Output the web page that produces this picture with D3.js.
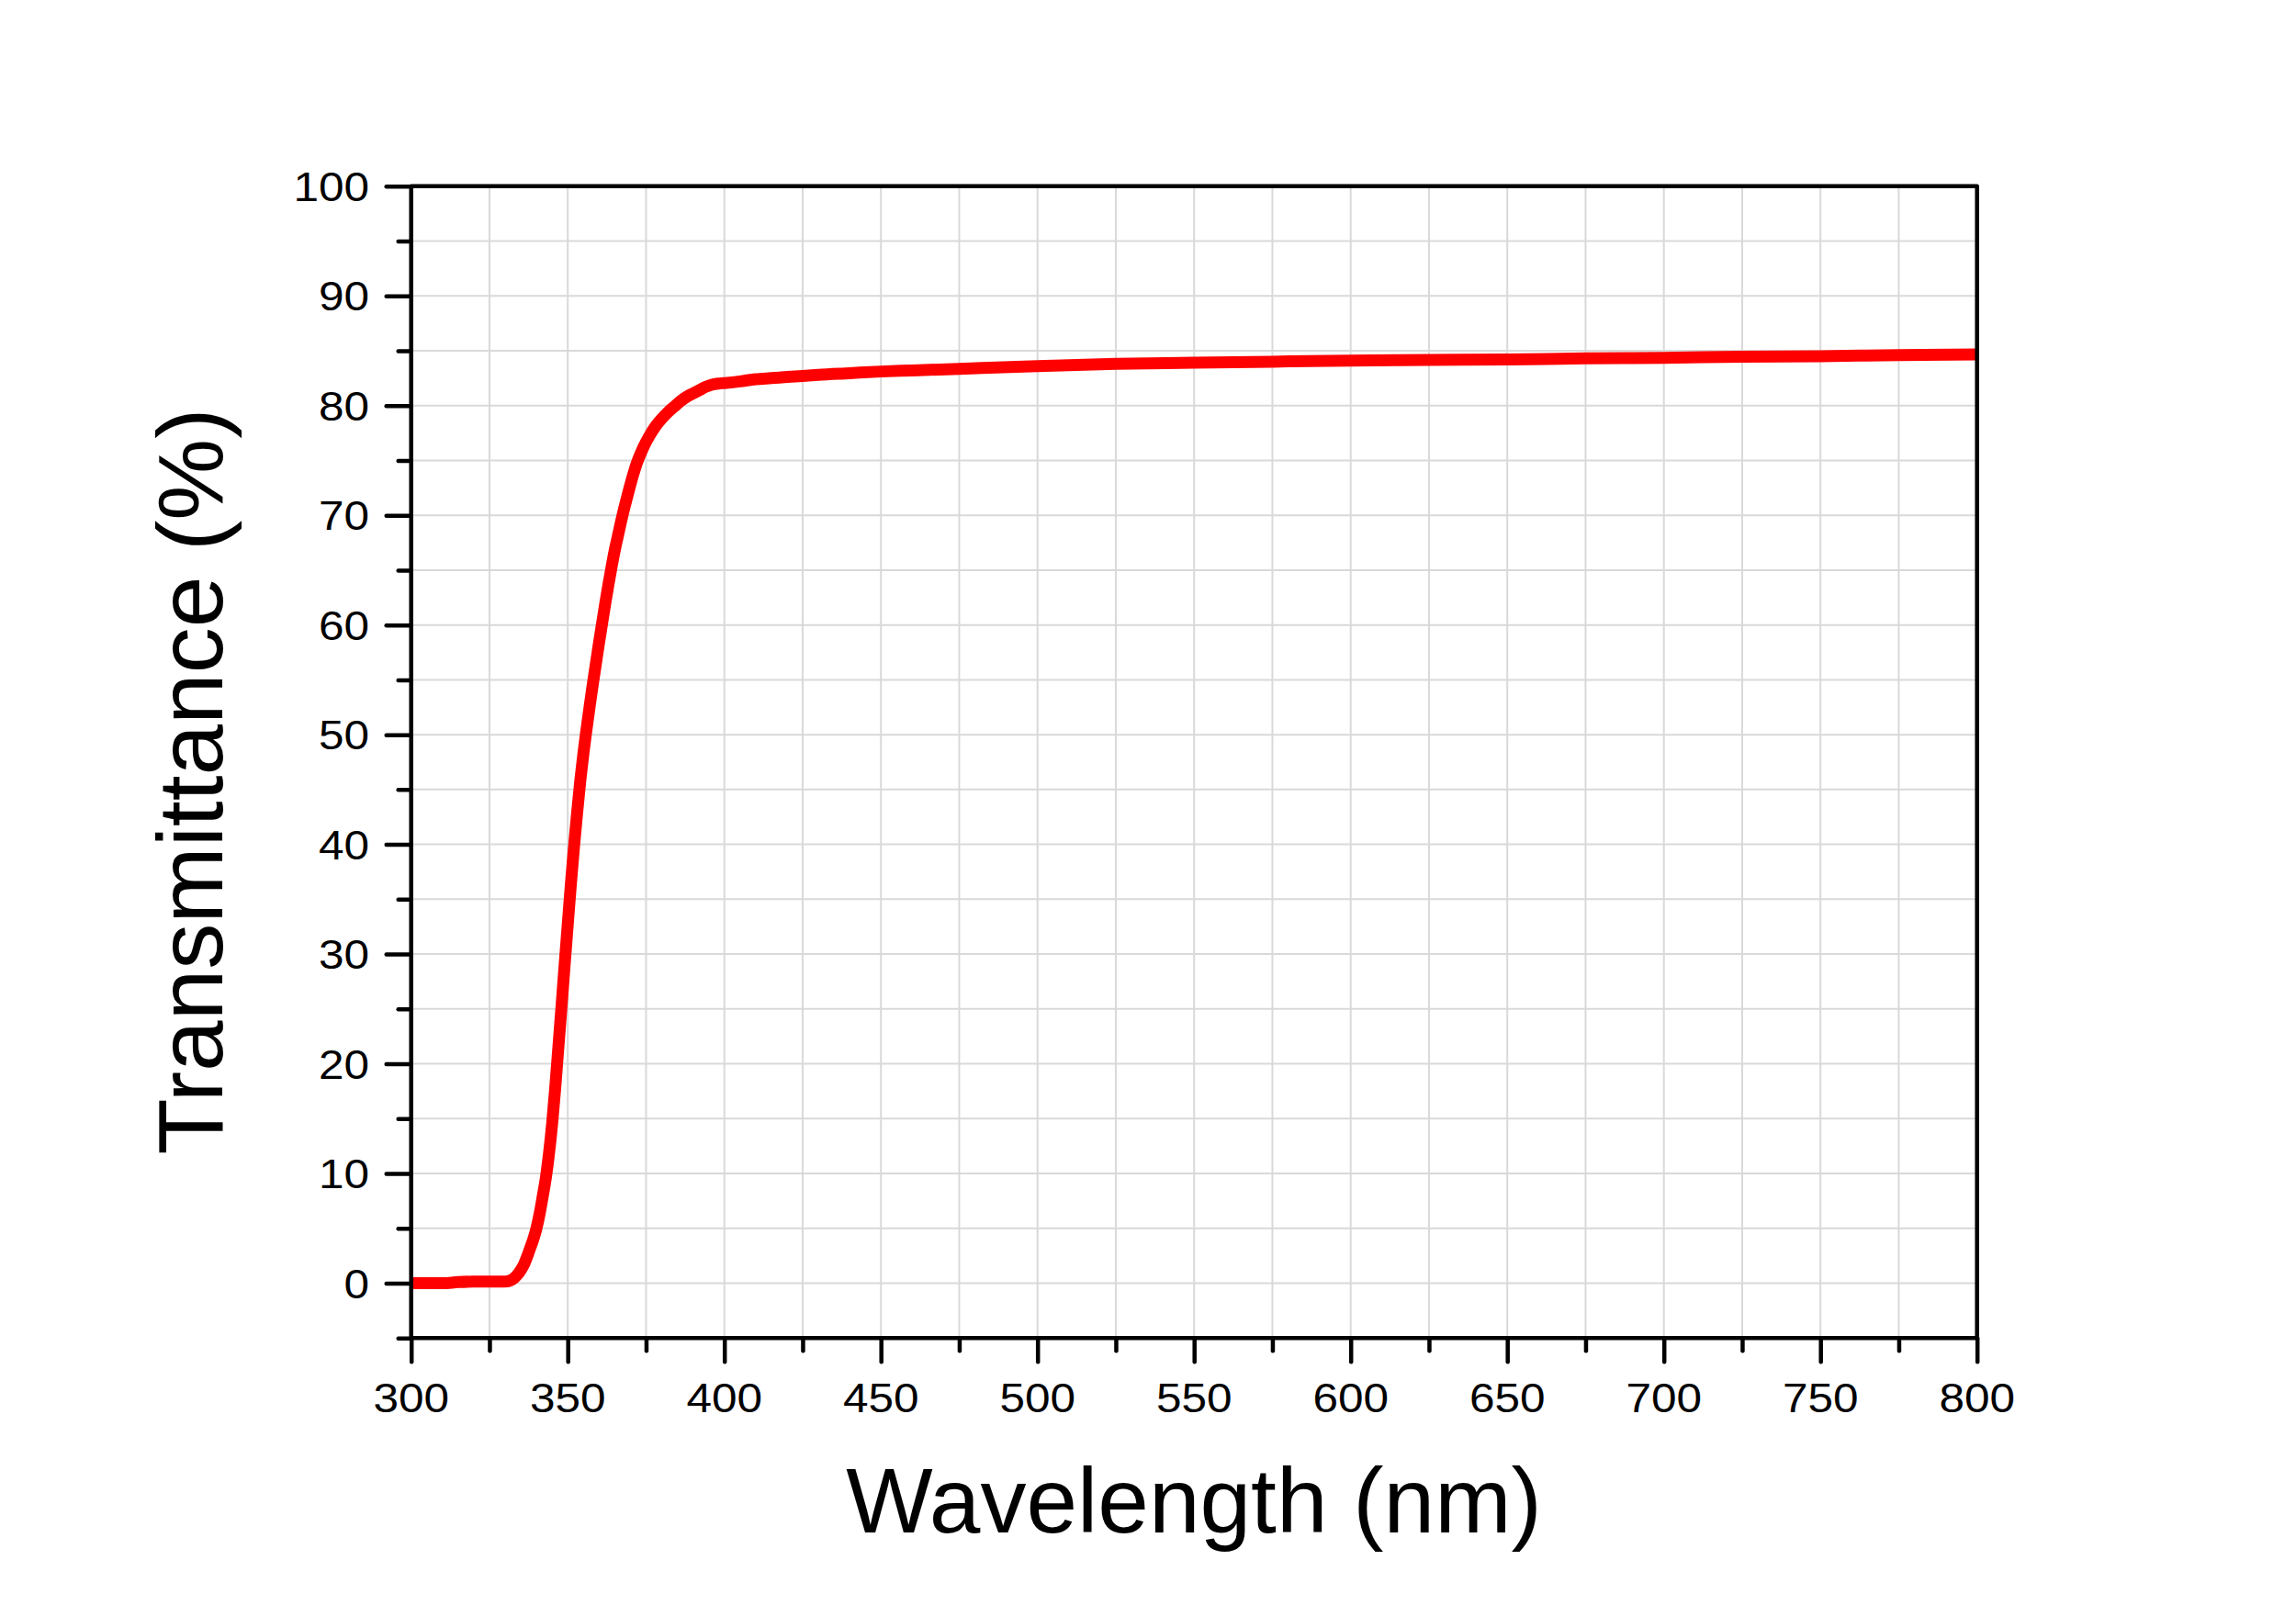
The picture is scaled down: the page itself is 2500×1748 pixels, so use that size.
<!DOCTYPE html>
<html>
<head>
<meta charset="utf-8">
<script src="https://cdn.jsdelivr.net/npm/d3@7"></script>
<style>
  html, body { margin: 0; padding: 0; background: #fff; }
  svg { display: block; }
  text { font-family: "Liberation Sans", Arial, sans-serif; fill: #000; }
</style>
</head>
<body>
<svg id="chart" width="2500" height="1748"></svg>
<script>
// ---- data ----
const wavelength = [300, 305, 310, 315, 320, 325, 330, 332, 333, 334, 335, 336, 337, 338, 339,
  340, 341, 342, 343, 344, 345, 346, 347, 348, 349, 350, 351, 352, 353, 354, 355, 356, 357, 358, 359,
  360, 361, 362, 363, 364, 365, 366, 367, 368, 369, 370, 372, 374, 376, 378, 380, 382, 384, 386, 388,
  390, 392, 394, 396, 398, 400, 405, 410, 415, 420, 425, 430, 440, 450, 460, 475, 500, 525, 550, 575,
  600, 625, 650, 675, 700, 725, 750, 775, 800];
const transmittance = [0.0, 0.0, 0.0, 0.1, 0.15, 0.15, 0.15, 0.3, 0.5, 0.8, 1.2, 1.7, 2.4, 3.2, 4.0,
  5.0, 6.3, 7.9, 9.6, 11.8, 14.5, 17.8, 21.5, 25.2, 29, 32.7, 36.4, 39.8, 42.9, 45.8, 48.3, 50.5, 52.6, 54.6, 56.5,
  58.4, 60.2, 62, 63.7, 65.3, 66.8, 68.1, 69.4, 70.6, 71.7, 72.8, 74.7, 76.1, 77.2, 78.1, 78.8, 79.4, 79.9, 80.4, 80.8,
  81.1, 81.4, 81.7, 81.9, 82.0, 82.05, 82.2, 82.4, 82.5, 82.6, 82.7, 82.8, 82.95, 83.1, 83.2, 83.35, 83.6, 83.8, 83.9, 84.0,
  84.1, 84.15, 84.2, 84.3, 84.35, 84.45, 84.5, 84.6, 84.65];
const xTickValues = [300, 350, 400, 450, 500, 550, 600, 650, 700, 750, 800];
const xMinorValues = [325, 375, 425, 475, 525, 575, 625, 675, 725, 775];
const yTickValues = [0, 10, 20, 30, 40, 50, 60, 70, 80, 90, 100];
const yMinorValues = [-5, 5, 15, 25, 35, 45, 55, 65, 75, 85, 95];
const xTitle = "Wavelength (nm)";
const yTitle = "Transmittance (%)";

// ---- layout ----
const L = 447.7, R = 2152.7, T = 202.7, B = 1457.3;
const svg = d3.select("#chart");
const x = d3.scaleLinear().domain([300, 800]).range([L, R]);
const y = d3.scaleLinear().domain([-5, 100]).range([B, T]);

// gridlines
const grid = svg.append("g").attr("stroke", "#d9d9d9").attr("stroke-width", 2);
grid.selectAll("line.gx").data(xTickValues.concat(xMinorValues).filter(v => v > 300 && v < 800))
  .enter().append("line").attr("x1", d => x(d)).attr("x2", d => x(d)).attr("y1", T).attr("y2", B);
grid.selectAll("line.gy").data(yTickValues.concat(yMinorValues).filter(v => v > -5 && v < 100))
  .enter().append("line").attr("y1", d => y(d)).attr("y2", d => y(d)).attr("x1", L).attr("x2", R);

// data line
const line = d3.line().x((d, i) => x(wavelength[i])).y(d => y(d)).curve(d3.curveMonotoneX);
svg.append("path").datum(transmittance)
  .attr("d", line).attr("fill", "none").attr("stroke", "#ff0000")
  .attr("stroke-width", 13).attr("stroke-linejoin", "round").attr("stroke-linecap", "butt");

// axes
const axW = 4.5;
const xAxisB = d3.axisBottom(x).tickValues(xTickValues).tickSize(26).tickFormat("");
const xMinorB = d3.axisBottom(x).tickValues(xMinorValues).tickSize(14).tickFormat("");
const yAxisL = d3.axisLeft(y).tickValues(yTickValues).tickSize(27).tickFormat("");
const yMinorL = d3.axisLeft(y).tickValues(yMinorValues).tickSize(14).tickFormat("");

function styleAxis(g) {
  g.selectAll(".domain").remove();
  g.selectAll(".tick line").attr("stroke", "#000").attr("stroke-width", axW).attr("stroke-linecap", "round");
}
svg.append("g").attr("transform", `translate(0,${B})`).call(xAxisB).call(styleAxis);
svg.append("g").attr("transform", `translate(0,${B})`).call(xMinorB).call(styleAxis);
svg.append("g").attr("transform", `translate(${L},0)`).call(yAxisL).call(styleAxis);
svg.append("g").attr("transform", `translate(${L},0)`).call(yMinorL).call(styleAxis);

// frame
svg.append("rect").attr("x", L).attr("y", T).attr("width", R - L).attr("height", B - T)
  .attr("fill", "none").attr("stroke", "#000").attr("stroke-width", axW).attr("stroke-linejoin", "round");

// tick labels
const fs = 45, sx = 1.1;
svg.append("g").selectAll("text").data(xTickValues).enter().append("text")
  .attr("transform", d => `translate(${x(d)},1538) scale(${sx},1)`)
  .attr("text-anchor", "middle").attr("font-size", fs).text(d => d);
svg.append("g").selectAll("text").data(yTickValues).enter().append("text")
  .attr("transform", d => `translate(402,${y(d) + 16}) scale(${sx},1)`)
  .attr("text-anchor", "end").attr("font-size", fs).text(d => d);

// titles
svg.append("text").attr("x", 1300).attr("y", 1669).attr("text-anchor", "middle")
  .attr("font-size", 100).text(xTitle);
svg.append("text").attr("transform", "translate(242,851) rotate(-90)").attr("text-anchor", "middle")
  .attr("font-size", 100).text(yTitle);
</script>
</body>
</html>
